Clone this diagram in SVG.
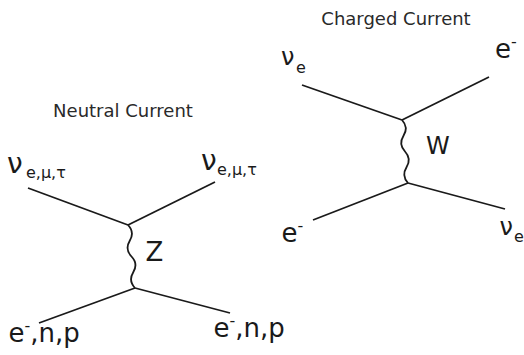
<svg xmlns="http://www.w3.org/2000/svg" width="524" height="355" viewBox="0 0 524 355">
<style>
.ln{stroke:#1a1a1a;stroke-width:1.8;fill:none;stroke-linecap:butt}
.t{font-family:"DejaVu Sans","Liberation Sans",sans-serif;fill:#1a1a1a}
.ttl{font-size:18px;fill:#2a2a2a}
.big{font-size:26px}
.nu{font-size:28px}
.nu2{font-size:24px}
.sub{font-size:16px}
</style>
<rect width="524" height="355" fill="#ffffff"/>
<g id="connectors">
  <g id="neutral-lines">
    <line class="ln" x1="28" y1="188" x2="128" y2="225"/>
    <line class="ln" x1="128" y1="225" x2="215" y2="182"/>
    <path class="ln" d="M128,225 q6.9,7.2 1.75,15.75 t1.75,15.75 t1.75,15.75 t1.75,15.75"/>
    <line class="ln" x1="135" y1="288" x2="39" y2="323"/>
    <line class="ln" x1="135" y1="288" x2="230" y2="313"/>
  </g>
  <g id="charged-lines">
    <line class="ln" x1="302" y1="85" x2="402" y2="120"/>
    <line class="ln" x1="402" y1="120" x2="489" y2="77"/>
    <path class="ln" d="M402,120 q6.75,7.3 1.5,15.75 t1.5,15.75 t1.5,15.75 t1.5,15.75"/>
    <line class="ln" x1="408" y1="183" x2="313" y2="220"/>
    <line class="ln" x1="408" y1="183" x2="505" y2="209"/>
  </g>
</g>
<g id="neutral-title"><text class="t ttl" x="123" y="117" text-anchor="middle">Neutral Current</text></g>
<g id="nc-nu-in"><text class="t nu" x="7" y="173">ν</text><text class="t sub" x="26" y="178">e,μ,τ</text></g>
<g id="nc-nu-out"><text class="t nu" x="201" y="170">ν</text><text class="t sub" x="217" y="175">e,μ,τ</text></g>
<g id="nc-z"><text class="t big" x="145.5" y="261">Z</text></g>
<g id="nc-e-in"><text class="t big" x="8.5" y="342">e<tspan class="sub" dy="-11">-</tspan><tspan dy="11">,n,p</tspan></text></g>
<g id="nc-e-out"><text class="t big" x="213.5" y="337">e<tspan class="sub" dy="-11">-</tspan><tspan dy="11">,n,p</tspan></text></g>
<g id="charged-title"><text class="t ttl" x="396" y="25" text-anchor="middle">Charged Current</text></g>
<g id="cc-nu-in"><text class="t nu2" x="281" y="65">ν</text><text class="t sub" x="296" y="73">e</text></g>
<g id="cc-e-out"><text class="t big" x="495" y="58">e<tspan class="sub" dy="-11">-</tspan></text></g>
<g id="cc-w"><text class="t nu2" x="426" y="154">W</text></g>
<g id="cc-e-in"><text class="t big" x="281.5" y="242">e<tspan class="sub" dy="-11">-</tspan></text></g>
<g id="cc-nu-out"><text class="t nu2" x="499.5" y="235">ν</text><text class="t sub" x="514" y="242">e</text></g>
</svg>
